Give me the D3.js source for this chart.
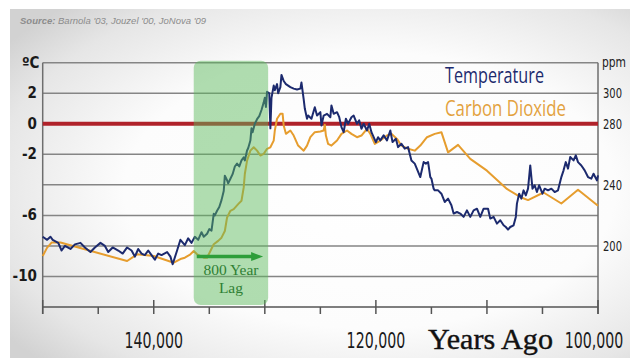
<!DOCTYPE html>
<html>
<head>
<meta charset="utf-8">
<script src="https://cdn.jsdelivr.net/npm/d3@7.9.0/dist/d3.min.js"></script>
<style>
  html, body { margin: 0; padding: 0; background: #fff; }
  svg { display: block; }
  .narrow { font-family: "Liberation Sans Narrow", "DejaVu Sans Condensed", "Liberation Sans", sans-serif; }
</style>
</head>
<body>
<div id="chart"></div>
<script>
// years ago in thousands, temperature anomaly in degrees C
const tempSeries = [
  [150.0,-7.4],[149.6,-7.6],[149.3,-7.4],[149.1,-7.6],[148.6,-7.8],[148.3,-8.3],[148.0,-8.0],[147.5,-8.2],
  [147.1,-7.9],[146.6,-7.8],[146.2,-8.1],[145.7,-8.4],[145.3,-8.1],[144.8,-7.8],[144.4,-8.0],[144.1,-8.4],
  [143.7,-8.1],[143.2,-8.3],[142.8,-8.5],[142.4,-8.1],[142.0,-8.3],[141.7,-8.7],[141.4,-8.2],[141.1,-8.5],
  [140.8,-8.6],[140.5,-8.3],[140.2,-8.6],[139.9,-8.9],[139.6,-8.5],[139.3,-8.6],[138.8,-8.4],[138.5,-8.7],
  [138.3,-9.2],[137.9,-8.3],[137.6,-7.6],[137.2,-7.95],[136.9,-7.5],[136.6,-7.8],[136.3,-7.4],[136.0,-7.6],
  [135.7,-7.1],[135.5,-7.4],[135.2,-7.2],[135.0,-6.9],[134.8,-7.0],[134.6,-5.9],[134.5,-6.0],[134.3,-5.7],
  [134.1,-5.45],[133.9,-5.0],[133.7,-4.4],[133.6,-3.4],[133.4,-3.7],[133.3,-3.9],[133.1,-3.6],[132.9,-3.3],
  [132.7,-2.8],[132.5,-2.6],[132.3,-2.8],[132.1,-2.4],[131.9,-2.2],[131.8,-2.4],[131.6,-1.75],[131.5,-1.6],
  [131.3,-1.1],[131.2,-0.3],[131.1,-0.55],[130.9,0],[130.7,0.3],[130.5,0.5],[130.3,0.9],[130.1,1.4],
  [130.0,1.7],[129.9,1.1],[129.8,2.1],[129.6,2.0],[129.5,-0.3],[129.4,1.7],[129.2,2.5],[129.1,2.2],
  [128.9,2.6],[128.8,2.0],[128.6,2.4],[128.5,3.2],[128.3,2.8],[128.1,2.6],[127.9,2.5],[127.7,2.4],
  [127.4,2.3],[127.1,2.24],[126.8,2.3],[126.7,2.7],[126.5,1.6],[126.4,1.0],[126.2,0.33],[126.1,0.54],
  [125.8,0.33],[125.5,1.08],[125.3,0.54],[125.0,0.76],[124.9,-0.11],[124.7,0.54],[124.4,0.65],[124.1,0.43],
  [124.0,1.2],[123.8,0.65],[123.5,0.76],[123.3,0.43],[123.1,-0.22],[122.9,-0.55],[122.7,0.33],[122.5,0],
  [122.2,0.43],[122.0,0.54],[121.7,0],[121.5,0.22],[121.3,-0.33],[121.1,0],[120.8,-0.44],[120.6,0],
  [120.4,-0.55],[120.2,-0.88],[120.0,-1.2],[119.8,-0.88],[119.6,-1.09],[119.3,-0.76],[119.0,-1.09],[118.7,-0.44],
  [118.5,-1.2],[118.2,-0.98],[118.0,-1.53],[117.7,-1.31],[117.4,-1.63],[117.1,-1.53],[116.8,-2.4],[116.5,-2.61],
  [116.0,-3.49],[115.7,-2.51],[115.5,-2.61],[115.3,-2.51],[115.1,-3.49],[115.0,-3.59],[114.8,-4.25],[114.7,-4.36],
  [114.4,-4.36],[114.1,-4.58],[113.8,-5.12],[113.5,-4.9],[113.2,-5.34],[113.0,-5.88],[112.7,-5.78],[112.4,-5.88],
  [112.1,-6.1],[111.8,-5.67],[111.5,-6.1],[111.2,-5.67],[110.9,-5.56],[110.6,-6.1],[110.3,-5.56],[109.9,-5.56],
  [109.7,-6.21],[109.4,-6.1],[109.1,-6.54],[108.8,-6.32],[108.5,-6.65],[108.3,-6.76],[108.1,-6.93],[107.9,-6.76],
  [107.6,-6.65],[107.4,-6.1],[107.3,-5.23],[107.1,-4.58],[106.9,-4.9],[106.7,-4.36],[106.5,-4.69],[106.3,-4.25],
  [106.1,-2.73],[105.9,-4.25],[105.7,-4.03],[105.5,-4.47],[105.3,-4.03],[105.0,-4.58],[104.8,-4.25],[104.5,-4.36],
  [104.2,-4.25],[103.9,-4.47],[103.6,-4.36],[103.3,-3.49],[103.1,-3.05],[102.9,-2.51],[102.7,-2.94],[102.5,-2.18],
  [102.2,-2.4],[102.0,-2.07],[101.8,-2.51],[101.5,-2.73],[101.2,-3.05],[100.9,-3.49],[100.6,-3.59],[100.4,-3.27],
  [100.1,-3.71],[100.0,-3.38]
];

// years ago in thousands, CO2 in ppm
const co2Series = [
  [150.0,193.4],[149.6,198.9],[149.2,202.2],[148.4,202.2],[142.4,190.1],[141.5,194.5],[140.0,193.4],[138.2,189.0],
  [137.6,191.4],[137.2,192.3],[136.7,194.5],[136.4,196.7],[136.1,194.5],[135.5,192.3],[135.2,192.3],[134.9,196.7],
  [134.6,201.1],[134.2,203.3],[133.9,205.4],[133.6,209.8],[133.4,218.6],[133.1,223.0],[132.8,224.1],[132.4,227.4],
  [132.1,229.6],[131.9,238.3],[131.8,247.1],[131.6,255.9],[131.3,262.4],[131.0,264.6],[130.7,262.4],[130.4,259.2],
  [130.1,260.3],[129.8,263.6],[129.5,264.6],[129.2,269.0],[129.1,275.6],[128.9,283.3],[128.6,286.6],[128.4,286.6],
  [128.3,278.9],[128.1,273.4],[127.7,275.6],[127.4,272.3],[127.0,265.7],[126.5,262.4],[126.2,265.7],[125.9,271.2],
  [125.5,274.5],[125.0,274.9],[124.7,275.6],[124.6,279.3],[124.5,272.3],[124.3,266.8],[124.0,265.7],[123.5,269.0],
  [123.1,273.4],[122.6,275.6],[122.2,273.4],[121.7,271.2],[121.3,272.3],[120.8,276.7],[120.5,273.4],[120.1,266.8],
  [119.6,269.0],[119.0,272.3],[118.6,273.4],[118.1,270.1],[117.7,265.7],[117.1,263.6],[116.5,262.4],[116.0,265.7],
  [115.4,271.2],[114.7,273.4],[114.1,274.5],[113.5,261.3],[112.6,266.2],[111.5,257.0],[110.0,249.3],[108.2,237.3],
  [106.9,231.7],[106.3,230.0],[104.9,235.0],[103.3,227.8],[101.8,236.8],[100.0,226.3]
];

const gridLevels = [4, 2, -2, -4, -6, -8, -10];
const tempTicks = [2, 0, -2, -6, -10];
const co2Ticks = [300, 280, 240, 200];
const xTicks = d3.range(150, 99, -5);
const xLabels = [140, 120, 100];
const seriesNames = ['Temperature', 'Carbon Dioxide'];
const lagSpan = [136.4, 129.7];

const width = 636, height = 363;
const navy = '#1c2a6e', orange = '#e69d2e';

const svg = d3.select('#chart').append('svg')
  .attr('width', width).attr('height', height);

const defs = svg.append('defs');
const bg = defs.append('radialGradient').attr('id', 'bg')
  .attr('cx', '58%').attr('cy', '52%').attr('r', '72%');
bg.append('stop').attr('offset', '0%').attr('stop-color', '#ffffff');
bg.append('stop').attr('offset', '55%').attr('stop-color', '#fcfcfc');
bg.append('stop').attr('offset', '85%').attr('stop-color', '#e6e6e6');
bg.append('stop').attr('offset', '100%').attr('stop-color', '#d2d2d2');

svg.append('rect').attr('x', 10).attr('y', 9).attr('width', 620).attr('height', 349)
  .attr('fill', 'url(#bg)');

const x = d3.scaleLinear().domain([150, 100]).range([42.7, 598]);
const yT = d3.scaleLinear().domain([-12, 4]).range([307, 62.7]);
const yC = d3.scaleLinear().domain([160, 320]).range([307, 62.7]);

// source line
svg.append('text')
  .attr('x', 20).attr('y', 24)
  .attr('font-family', 'Liberation Sans, sans-serif')
  .attr('font-size', 9.5).attr('font-style', 'italic').attr('fill', '#8c8c8c')
  .call(t => {
    t.append('tspan').attr('font-weight', 'bold').text('Source:');
    t.append('tspan').text(" Barnola '03, Jouzel '00, JoNova '09");
  });

// gridlines
svg.append('g').selectAll('line')
  .data(gridLevels)
  .join('line')
  .attr('x1', x(150)).attr('x2', x(100))
  .attr('y1', d => yT(d)).attr('y2', d => yT(d))
  .attr('stroke', '#858585').attr('stroke-width', 1.5);

// side axes and bottom axis
svg.append('line').attr('x1', x(150)).attr('x2', x(150)).attr('y1', yT(4)).attr('y2', yT(-12) + 7)
  .attr('stroke', '#6e6e6e').attr('stroke-width', 1.5);
svg.append('line').attr('x1', x(100)).attr('x2', x(100)).attr('y1', yT(4)).attr('y2', yT(-12) + 7)
  .attr('stroke', '#6e6e6e').attr('stroke-width', 1.5);
svg.append('line').attr('x1', x(150)).attr('x2', x(100)).attr('y1', yT(-12)).attr('y2', yT(-12))
  .attr('stroke', '#555').attr('stroke-width', 1.5);

svg.append('g').selectAll('line')
  .data(xTicks)
  .join('line')
  .attr('x1', d => x(d)).attr('x2', d => x(d))
  .attr('y1', d => d % 10 === 0 ? yT(-12) - 7 : yT(-12))
  .attr('y2', yT(-12) + 7)
  .attr('stroke', '#555').attr('stroke-width', 1.5);

// zero line
svg.append('line')
  .attr('x1', x(150)).attr('x2', x(100))
  .attr('y1', yT(0)).attr('y2', yT(0))
  .attr('stroke', '#b0222a').attr('stroke-width', 4);

// series
const tempLine = d3.line().x(d => x(d[0])).y(d => yT(d[1]));
const co2Line = d3.line().x(d => x(d[0])).y(d => yC(d[1]));

svg.append('path').datum(co2Series)
  .attr('d', co2Line).attr('fill', 'none')
  .attr('stroke', orange).attr('stroke-width', 2).attr('stroke-linejoin', 'round');

svg.append('path').datum(tempSeries)
  .attr('d', tempLine).attr('fill', 'none')
  .attr('stroke', navy).attr('stroke-width', 2).attr('stroke-linejoin', 'round');

// lag box on top, see-through
svg.append('rect')
  .attr('x', x(lagSpan[0])).attr('y', yT(4) - 2)
  .attr('width', x(lagSpan[1]) - x(lagSpan[0]))
  .attr('height', yT(-12) - yT(4))
  .attr('rx', 7)
  .attr('fill', 'rgb(92,186,92)').attr('fill-opacity', 0.48);

const arrowY = yT(-8.7);
const ax0 = x(lagSpan[0]) + 3, ax1 = x(lagSpan[1]) - 5;
svg.append('line')
  .attr('x1', ax0).attr('x2', ax1 - 8)
  .attr('y1', arrowY).attr('y2', arrowY)
  .attr('stroke', '#2e9e3a').attr('stroke-width', 3.5);
svg.append('path')
  .attr('d', `M${ax1 - 12},${arrowY - 4.5} L${ax1},${arrowY} L${ax1 - 12},${arrowY + 4.5} Z`)
  .attr('fill', '#2e9e3a');

const lagMid = (x(lagSpan[0]) + x(lagSpan[1])) / 2;
svg.append('text')
  .attr('x', lagMid).attr('y', yT(-9.9))
  .attr('text-anchor', 'middle')
  .attr('font-family', 'Liberation Serif, serif').attr('font-size', 15.5)
  .attr('fill', '#2f7f34').text('800 Year');
svg.append('text')
  .attr('x', lagMid).attr('y', yT(-11.1))
  .attr('text-anchor', 'middle')
  .attr('font-family', 'Liberation Serif, serif').attr('font-size', 15.5)
  .attr('fill', '#2f7f34').text('Lag');

// left axis labels
svg.append('g').selectAll('text')
  .data(tempTicks)
  .join('text')
  .attr('class', 'narrow')
  .attr('x', 37).attr('y', d => yT(d) + 5)
  .attr('text-anchor', 'end')
  .attr('font-size', 15).attr('font-weight', 'bold').attr('fill', '#1a1a1a')
  .text(d => d);

svg.append('text')
  .attr('class', 'narrow')
  .attr('x', 22).attr('y', 68)
  .attr('font-size', 15).attr('font-weight', 'bold').attr('fill', '#1a1a1a')
  .text('ºC');

// right axis labels
svg.append('g').selectAll('text')
  .data(co2Ticks)
  .join('text')
  .attr('class', 'narrow')
  .attr('x', 603).attr('y', d => yC(d) + 5)
  .attr('font-size', 14).attr('fill', '#222')
  .attr('textLength', 19).attr('lengthAdjust', 'spacingAndGlyphs')
  .text(d => d);

svg.append('text')
  .attr('class', 'narrow')
  .attr('x', 602).attr('y', 67)
  .attr('font-size', 14).attr('fill', '#222')
  .attr('textLength', 24).attr('lengthAdjust', 'spacingAndGlyphs')
  .text('ppm');

// bottom labels, squeezed horizontally like the condensed face in the original
svg.append('g').selectAll('text')
  .data(xLabels)
  .join('text')
  .attr('class', 'narrow')
  .attr('transform', d => `translate(${x(d) - (d === 100 ? 4 : 0)},348) scale(0.75,1)`)
  .attr('text-anchor', 'middle')
  .attr('font-size', 21).attr('fill', '#1a1a1a')
  .text(d => d3.format(',')(d * 1000));

svg.append('text')
  .attr('x', 428).attr('y', 349)
  .attr('font-family', 'Liberation Serif, serif').attr('font-size', 29)
  .attr('fill', '#111').attr('stroke', '#111').attr('stroke-width', 0.4)
  .attr('textLength', 125).attr('lengthAdjust', 'spacingAndGlyphs')
  .text('Years Ago');

// legend
const legendColors = [navy, '#e3a23e'];
svg.append('g').selectAll('text')
  .data(seriesNames)
  .join('text')
  .attr('x', 445).attr('y', (d, i) => 83 + i * 33)
  .attr('font-family', 'Open Sans, sans-serif').attr('font-size', 22)
  .attr('fill', (d, i) => legendColors[i])
  .attr('textLength', (d, i) => i === 0 ? 99 : 121)
  .attr('lengthAdjust', 'spacingAndGlyphs')
  .text(d => d);
</script>
</body>
</html>
